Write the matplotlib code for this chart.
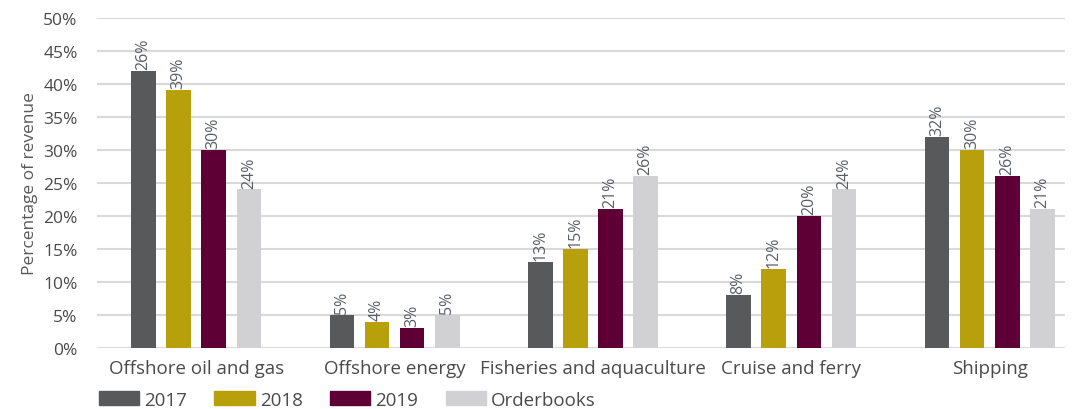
import numpy as np
import matplotlib.pyplot as plt
from matplotlib.patches import Patch

plt.rcParams['font.family'] = ['Open Sans', 'DejaVu Sans']

categories = ['Offshore oil and gas', 'Offshore energy', 'Fisheries and aquaculture',
              'Cruise and ferry', 'Shipping']
series = ['2017', '2018', '2019', 'Orderbooks']
v2017 = [42, 5, 13, 8, 32]
v2018 = [39, 4, 15, 12, 30]
v2019 = [30, 3, 21, 20, 26]
vorder = [24, 5, 26, 24, 21]
# labels as printed on the chart (first one differs from bar height)
l2017 = ['26%', '5%', '13%', '8%', '32%']
l2018 = ['39%', '4%', '15%', '12%', '30%']
l2019 = ['30%', '3%', '21%', '20%', '26%']
lorder = ['24%', '5%', '26%', '24%', '21%']
colors = ['#58595b', '#b8a00c', '#5e0035', '#d1d1d3']

fig = plt.figure(figsize=(10.78, 4.10), dpi=100)
ax = fig.add_axes([0.09, 0.149, 0.898, 0.805])

x = np.arange(len(categories))
w = 0.124
step = 0.177
vals = [v2017, v2018, v2019, vorder]
labs = [l2017, l2018, l2019, lorder]
for i in range(4):
    xs = x + (i - 1.5) * step
    ax.bar(xs, vals[i], width=w, color=colors[i], zorder=3)
    for xi, v, t in zip(xs, vals[i], labs[i]):
        ax.text(xi, v + 0.3, t, rotation=90, ha='center', va='bottom',
                fontsize=11.5, color='#5a5e66')

ax.set_ylim(0, 50)
ax.set_xlim(-0.5, 4.38)
ax.set_yticks(range(0, 51, 5))
ax.set_yticklabels([f'{v}%' for v in range(0, 51, 5)])
ax.set_xticks(x)
ax.set_xticklabels(categories)
ax.grid(axis='y', color='#d9d9d9', linewidth=1.5, zorder=0)
for s in ax.spines.values():
    s.set_visible(False)
ax.tick_params(axis='y', length=0, labelsize=12.5, colors='#4a4a4a', pad=14)
ax.tick_params(axis='x', length=0, labelsize=13.5, colors='#4a4a4a', pad=8)
ax.set_ylabel('Percentage of revenue', fontsize=12.5, color='#595959', labelpad=4)

handles = [Patch(color=c) for c in colors]
fig.legend(handles, series, loc='lower left', bbox_to_anchor=(0.076, -0.04), ncol=4,
           frameon=False, fontsize=13.5, handlelength=2.15, handleheight=0.7,
           columnspacing=1.45, handletextpad=0.28, labelcolor='#4a4a4a')

fig.savefig('out.png', dpi=100)
